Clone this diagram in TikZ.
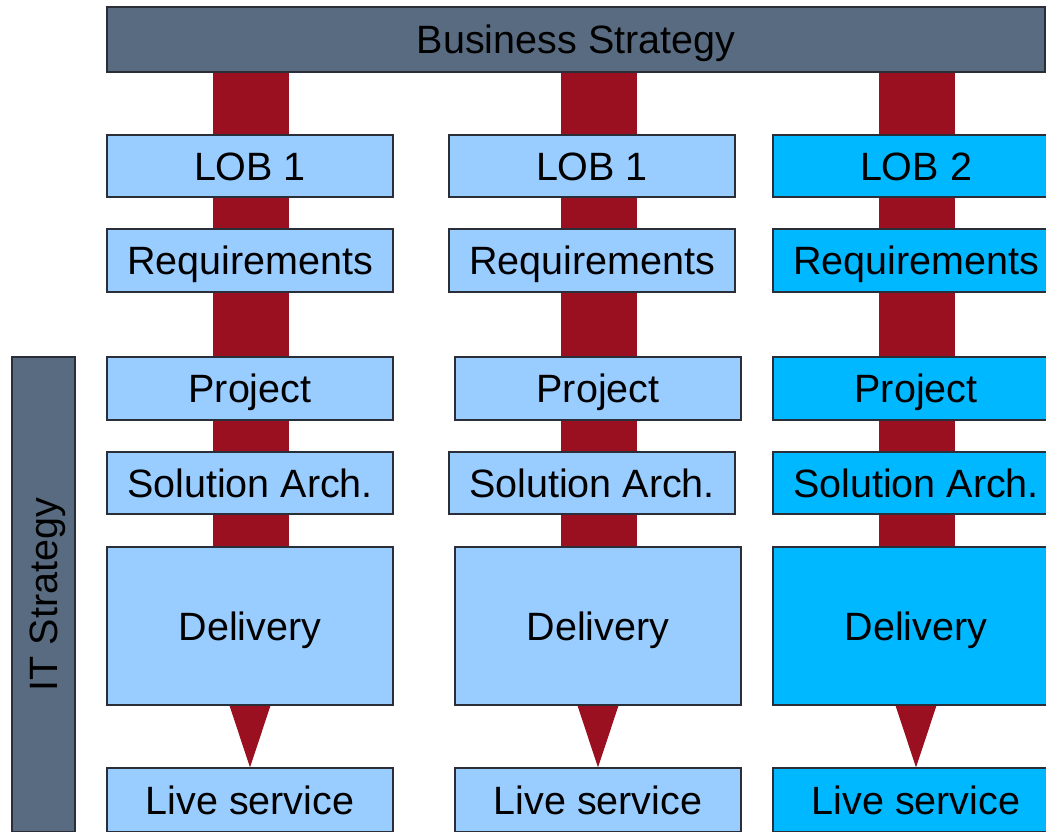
\documentclass[tikz,border=0pt]{standalone}
\usepackage{fontspec}
\setmainfont{Liberation Sans}
\usetikzlibrary{calc,backgrounds}
\definecolor{slate}{HTML}{586B81}
\definecolor{pale}{HTML}{99CCFF}
\definecolor{sky}{HTML}{00B8FF}
\definecolor{barred}{HTML}{9A1020}
\definecolor{edge}{HTML}{2A2E38}
\tikzset{
  box/.style={draw=edge, line width=1.2pt, inner sep=0pt, text=black,
    font=\fontsize{39.5}{47}\selectfont, text height=28.3pt, text depth=0pt},
  redbar/.style={draw=barred, line width=76pt, line cap=butt},
  tri/.style={fill=barred}
}
\newcommand\bx[7]{\node[box,fill=#6,minimum width={(#4-#2)*1pt},minimum height={(#5-#3)*1pt}] (#1) at ({(#2+#4)/2},{(#3+#5)/2}) {#7};}
\begin{document}
\begin{tikzpicture}[x=1pt,y=-1pt]
\useasboundingbox (0,0) rectangle (1046,831);
% top bar
\bx{bs}{107}{7}{1045}{72}{slate}{Business Strategy}
% IT strategy
\node[box,fill=slate,rotate=90,minimum width=475pt,minimum height=63pt] (it) at (43.5,594.5) {IT Strategy};
% column 1
\bx{a1}{107}{135}{393}{197}{pale}{LOB 1}
\bx{a2}{107}{229}{393}{292}{pale}{Requirements}
\bx{a3}{107}{357}{393}{420}{pale}{Project}
\bx{a4}{107}{452}{393}{514}{pale}{Solution Arch.}
\bx{a5}{107}{547}{393}{705}{pale}{Delivery}
\bx{a6}{107}{768}{393}{832}{pale}{Live service}
% column 2
\bx{b1}{449}{135}{735}{197}{pale}{LOB 1}
\bx{b2}{449}{229}{735}{292}{pale}{Requirements}
\bx{b3}{455}{357}{741}{420}{pale}{Project}
\bx{b4}{449}{452}{735}{514}{pale}{Solution Arch.}
\bx{b5}{455}{547}{741}{705}{pale}{Delivery}
\bx{b6}{455}{768}{741}{832}{pale}{Live service}
% column 3
\bx{c1}{773}{135}{1059}{197}{sky}{LOB 2}
\bx{c2}{773}{229}{1059}{292}{sky}{Requirements}
\bx{c3}{773}{357}{1059}{420}{sky}{Project}
\bx{c4}{773}{452}{1059}{514}{sky}{Solution Arch.}
\bx{c5}{773}{547}{1059}{705}{sky}{Delivery}
\bx{c6}{773}{768}{1059}{832}{sky}{Live service}
% bar axes
\coordinate (xa) at (251,0);
\coordinate (xb) at (599,0);
\coordinate (xc) at (917,0);
\begin{pgfonlayer}{background}
\draw[redbar] (bs.south -| xa) -- (a5.north -| xa);
\draw[redbar] (bs.south -| xb) -- (b5.north -| xb);
\draw[redbar] (bs.south -| xc) -- (c5.north -| xc);
\fill[tri] ($(a5.south)+(-20.5,0)$) -- ($(a5.south)+(20.5,0)$) -- (a6.north) -- cycle;
\fill[tri] ($(b5.south)+(-20.5,0)$) -- ($(b5.south)+(20.5,0)$) -- (b6.north) -- cycle;
\fill[tri] ($(c5.south)+(-20.5,0)$) -- ($(c5.south)+(20.5,0)$) -- (c6.north) -- cycle;
\end{pgfonlayer}
\end{tikzpicture}
\end{document}
